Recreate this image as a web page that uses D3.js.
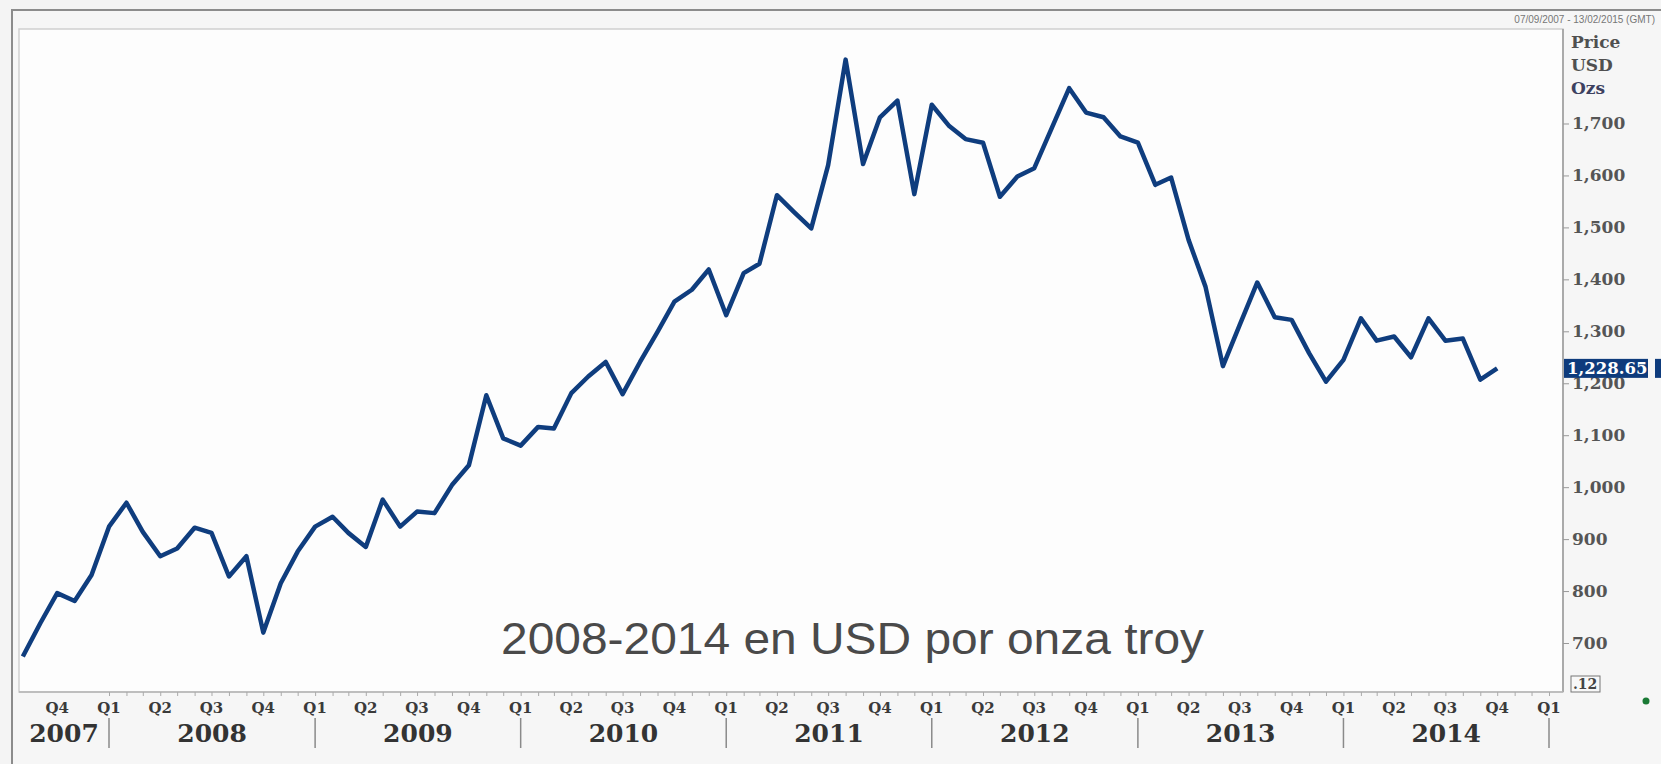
<!DOCTYPE html>
<html>
<head>
<meta charset="utf-8">
<script src="https://cdn.jsdelivr.net/npm/d3@7"></script>
<style>
	body { margin: 0; background: #f4f4f4; }
	svg { display: block; }
	.serif { font-family: "DejaVu Serif", serif; font-weight: bold; }
</style>
</head>
<body>
<svg id="chart" width="1661" height="764"></svg>
<script>
// monthly gold price, USD per troy ounce
let firstMonth = new Date(2007, 7, 1);
let prices = [674, 738, 796, 781, 831, 924, 970, 914, 867, 882, 922, 912,
	828, 867, 720, 815, 876, 924, 943, 912, 885, 976, 924, 953,
	950, 1004, 1042, 1177, 1094, 1080, 1116, 1113, 1181, 1213, 1241, 1179,
	1241, 1299, 1357, 1380, 1419, 1331, 1412, 1430, 1562, 1530, 1498, 1620,
	1823, 1622, 1712, 1744, 1564, 1736, 1695, 1670, 1663, 1559, 1598, 1614,
	1691, 1768, 1721, 1712, 1675, 1663, 1582, 1596, 1476, 1386, 1233, 1313,
	1394, 1327, 1322, 1258, 1203, 1245, 1325, 1282, 1290, 1250, 1325, 1282,
	1286, 1207, 1228.65];
let yTicks = [700, 800, 900, 1000, 1100, 1200, 1300, 1400, 1500, 1600, 1700];
let years = [2007, 2008, 2009, 2010, 2011, 2012, 2013, 2014];
let unitLabels = ["Price", "USD", "Ozs"];
let dateRange = "07/09/2007 - 13/02/2015 (GMT)";
let caption = "2008-2014 en USD por onza troy";
let lastPrice = prices[prices.length - 1];

let data = prices.map(function (d, i) {
	return {date: d3.timeMonth.offset(firstMonth, i), value: d};
});

let pLeft = 19, pTop = 29, pRight = 1563, pBottom = 692;
let svg = d3.select("#chart");

let x = d3.scaleTime().domain([new Date(2008, 0, 1), new Date(2015, 0, 1)]).range([109, 1549]);
let y = d3.scaleLinear().domain([605.7, 1881.9]).range([pBottom, pTop]);

// outer frame
svg.append("rect").attr("x", 0).attr("y", 0).attr("width", 1661).attr("height", 764).style("fill", "#f4f4f4");
svg.append("rect").attr("x", 12).attr("y", 10).attr("width", 1661).attr("height", 764)
	.style("fill", "#f6f6f6").style("stroke", "#8c8c8c").style("stroke-width", "2px");
svg.append("rect").attr("x", pLeft).attr("y", pTop).attr("width", pRight - pLeft).attr("height", pBottom - pTop)
	.style("fill", "#fdfdfd").style("stroke", "#cfcfcf").style("stroke-width", "1.5px");

svg.append("text").attr("x", 1655).attr("y", 22.5).attr("text-anchor", "end")
	.style("font-family", "Liberation Sans, Arial, sans-serif").style("font-size", "10px")
	.style("fill", "#777").text(dateRange);

// y axis on the right
let yAxis = svg.append("g").attr("transform", "translate(" + pRight + ",0)")
	.call(d3.axisRight(y).tickValues(yTicks).tickFormat(d3.format(",")).tickSize(6).tickPadding(3));
yAxis.select(".domain").attr("d", "M0," + pTop + "V" + pBottom).style("stroke", "#9a9a9a").style("stroke-width", "1.5px");
yAxis.selectAll(".tick line").style("stroke", "#999");
yAxis.selectAll("text").attr("class", "serif").style("font-size", "17px").style("fill", "#555");

svg.selectAll(".unit").data(unitLabels).enter().append("text")
	.attr("class", "serif unit").attr("x", 1571).attr("y", function (d, i) {return 48 + i * 23;})
	.style("font-size", "17px").style("fill", function (d, i) {return i == 2 ? "#3d4160" : "#505050";})
	.text(function (d) {return d;});

// x axis: monthly minor ticks
let xAxis = svg.append("g").attr("transform", "translate(0," + pBottom + ")")
	.call(d3.axisBottom(x).ticks(d3.timeMonth.every(1)).tickSize(4).tickFormat(""));
xAxis.select(".domain").attr("d", "M" + pLeft + ",0H" + pRight).style("stroke", "#b5b5b5").style("stroke-width", "1.5px");
xAxis.selectAll(".tick line").style("stroke", "#aaa");

// quarter labels
let quarters = d3.timeMonth.every(3).range(new Date(2007, 9, 1), new Date(2015, 1, 1));
svg.selectAll(".qlabel").data(quarters).enter().append("text")
	.attr("class", "serif qlabel").attr("x", function (d) {return x(d);}).attr("y", 713)
	.attr("text-anchor", "middle").style("font-size", "15px").style("fill", "#3a3a3a")
	.text(function (d) {return "Q" + (Math.floor(d.getMonth() / 3) + 1);});

// year separators and labels
svg.selectAll(".ysep").data(years.slice(1).concat([2015])).enter().append("line")
	.attr("x1", function (d) {return x(new Date(d, 0, 1));}).attr("x2", function (d) {return x(new Date(d, 0, 1));})
	.attr("y1", 718).attr("y2", 748).style("stroke", "#8a8a8a").style("stroke-width", "1.5px");

svg.selectAll(".ylabel").data(years).enter().append("text")
	.attr("class", "serif ylabel")
	.attr("x", function (d) {
		let a = Math.max(pLeft, x(new Date(d, 0, 1))), b = x(new Date(d + 1, 0, 1));
		return (a + b) / 2;
	})
	.attr("y", 742).attr("text-anchor", "middle").style("font-size", "25px").style("fill", "#333")
	.text(function (d) {return d;});

// price line
let line = d3.line().x(function (d) {return x(d.date);}).y(function (d) {return y(d.value);});
svg.append("path").datum(data).attr("d", line)
	.style("fill", "none").style("stroke", "#0f3d7e").style("stroke-width", "4.5px").style("stroke-linejoin", "round");

// caption
svg.append("text").attr("x", 501).attr("y", 654).attr("textLength", 703).attr("lengthAdjust", "spacingAndGlyphs")
	.style("font-family", "Liberation Sans, Arial, sans-serif").style("font-size", "44px").style("fill", "#4a4a4a")
	.text(caption);

// last price marker (covers the top of the 1,200 label, as in the source)
let ly = y(lastPrice);
svg.append("rect").attr("x", pRight + 1).attr("y", ly - 9.5).attr("width", 84).attr("height", 19).style("fill", "#0e3b7c");
svg.append("rect").attr("x", 1655).attr("y", ly - 9.5).attr("width", 6).attr("height", 19).style("fill", "#0e3b7c");
svg.append("text").attr("class", "serif").attr("x", pRight + 4).attr("y", ly + 6)
	.style("font-size", "16.5px").style("fill", "#fff").text(d3.format(",.2f")(lastPrice));

// small boxed label and status dot
svg.append("rect").attr("x", 1571).attr("y", 676).attr("width", 29).attr("height", 16)
	.style("fill", "#f8f8f8").style("stroke", "#777").style("stroke-width", "1px");
svg.append("text").attr("class", "serif").attr("x", 1573).attr("y", 689)
	.style("font-size", "14px").style("fill", "#444").text(".12");
svg.append("circle").attr("cx", 1646).attr("cy", 701).attr("r", 3.5).style("fill", "#1a7a35");
</script>
</body>
</html>
